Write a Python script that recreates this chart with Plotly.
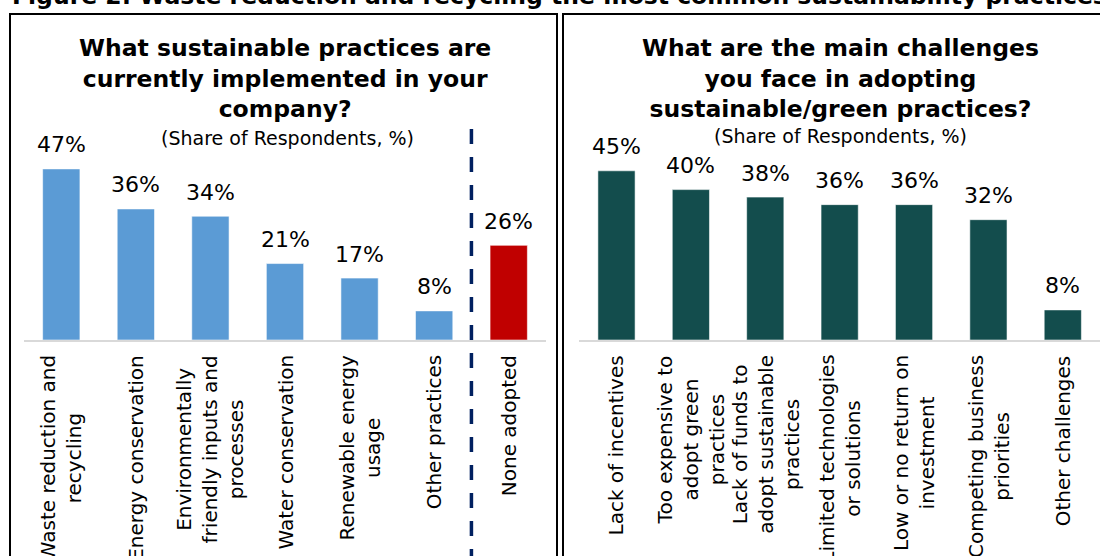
import plotly.graph_objects as go

W, H = 1100, 556

# ---------------- data ----------------
practices = ["Waste reduction and recycling", "Energy conservation",
             "Environmentally friendly inputs and processes", "Water conservation",
             "Renewable energy usage", "Other practices", "None adopted"]
practice_labels = ["Waste reduction and<br>recycling", "Energy conservation",
                   "Environmentally<br>friendly inputs and<br>processes", "Water conservation",
                   "Renewable energy<br>usage", "Other practices", "None adopted"]
practice_values = [47, 36, 34, 21, 17, 8, 26]

challenges = ["Lack of incentives", "Too expensive to adopt green practices",
              "Lack of funds to adopt sustainable practices", "Limited technologies or solutions",
              "Low or no return on investment", "Competing business priorities", "Other challenges"]
challenge_labels = ["Lack of incentives", "Too expensive to<br>adopt green<br>practices",
                    "Lack of funds to<br>adopt sustainable<br>practices", "Limited technologies<br>or solutions",
                    "Low or no return on<br>investment", "Competing business<br>priorities", "Other challenges"]
challenge_values = [45, 40, 38, 36, 36, 32, 8]

fig_title = "Figure 2: Waste reduction and recycling the most common sustainability practices"
left_title = "What sustainable practices are<br>currently implemented in your<br>company?"
right_title = "What are the main challenges<br>you face in adopting<br>sustainable/green practices?"
subtitle = "(Share of Respondents, %)"

# ---------------- style ----------------
FONT = "DejaVu Sans"
BLUE = "#5B9BD5"
RED = "#C00000"
TEAL = "#134D4D"
NAVY = "#002060"


def px(x):
    return x / W


def py(y):
    return 1 - y / H


left_colors = [BLUE] * (len(practices) - 1) + [RED]

fig = go.Figure()
fig.add_trace(go.Bar(x=practices, y=practice_values, marker=dict(color=left_colors,
                     line=dict(color="rgba(255,255,255,0.55)", width=1)),
                     xaxis="x", yaxis="y", showlegend=False, hoverinfo="skip"))
fig.add_trace(go.Bar(x=challenges, y=challenge_values, marker=dict(color=TEAL,
                     line=dict(color="rgba(255,255,255,0.55)", width=1)),
                     xaxis="x2", yaxis="y2", showlegend=False, hoverinfo="skip"))

base_y, top_y = 340, 130
ax_common = dict(showgrid=False, zeroline=False, showticklabels=False, ticks="",
                 showline=True, linecolor="#D9D9D9", linewidth=2, fixedrange=True,
                 type="category")
yax_common = dict(showgrid=False, zeroline=False, showticklabels=False, ticks="",
                  showline=False, domain=[py(base_y), py(top_y)], fixedrange=True)

annotations = []
# value labels
for cat, v in zip(practices, practice_values):
    annotations.append(dict(x=cat, y=v, xref="x", yref="y", text=f"{v}%", showarrow=False,
                            yanchor="middle", yshift=24, font=dict(family=FONT, size=22, color="#000")))
for cat, v in zip(challenges, challenge_values):
    annotations.append(dict(x=cat, y=v, xref="x2", yref="y2", text=f"{v}%", showarrow=False,
                            yanchor="middle", yshift=24, font=dict(family=FONT, size=22, color="#000")))
# category labels (rotated)
for cat, lab in zip(practices, practice_labels):
    annotations.append(dict(x=cat, y=py(353), xref="x", yref="paper", text=lab, showarrow=False,
                            textangle=-90, xanchor="center", yanchor="top", align="center",
                            font=dict(family=FONT, size=20, color="#000")))
for cat, lab in zip(challenges, challenge_labels):
    annotations.append(dict(x=cat, y=py(353), xref="x2", yref="paper", text=lab, showarrow=False,
                            textangle=-90, xanchor="center", yanchor="top", align="center",
                            font=dict(family=FONT, size=20, color="#000")))
# titles
annotations += [
    dict(x=px(10), y=py(-4), xref="paper", yref="paper", text=f"<b>{fig_title}</b>", showarrow=False,
         xanchor="left", yanchor="middle", font=dict(family=FONT, size=23.5, color="#000")),
    dict(x=px(285), y=py(78), xref="paper", yref="paper", text=f"<b>{left_title}</b>", showarrow=False,
         xanchor="center", yanchor="middle", align="center", font=dict(family=FONT, size=23.5, color="#000")),
    dict(x=px(840), y=py(78), xref="paper", yref="paper", text=f"<b>{right_title}</b>", showarrow=False,
         xanchor="center", yanchor="middle", align="center", font=dict(family=FONT, size=23.5, color="#000")),
    dict(x=px(287), y=py(138), xref="paper", yref="paper", text=subtitle, showarrow=False,
         xanchor="center", yanchor="middle", font=dict(family=FONT, size=19, color="#000")),
    dict(x=px(840), y=py(136), xref="paper", yref="paper", text=subtitle, showarrow=False,
         xanchor="center", yanchor="middle", font=dict(family=FONT, size=19, color="#000")),
]

shapes = [
    # panel frames
    dict(type="rect", xref="paper", yref="paper", x0=px(10), x1=px(557), y0=py(14), y1=py(562),
         line=dict(color="#000", width=2), fillcolor="rgba(0,0,0,0)"),
    dict(type="rect", xref="paper", yref="paper", x0=px(563), x1=px(1104), y0=py(14), y1=py(562),
         line=dict(color="#000", width=2), fillcolor="rgba(0,0,0,0)"),
    # divider between adopted practices and "None adopted"
    dict(type="line", xref="x", yref="paper", x0=5.5, x1=5.5, y0=py(129), y1=py(575),
         line=dict(color=NAVY, width=3.5, dash="15px,13px")),
]

fig.update_layout(
    width=W, height=H, margin=dict(l=0, r=0, t=0, b=0),
    paper_bgcolor="white", plot_bgcolor="white",
    bargap=0.5,
    xaxis=dict(domain=[px(24), px(546)], anchor="y", range=[-0.5, 6.5], **ax_common),
    yaxis=dict(anchor="x", range=[0, (base_y - top_y) / 3.64], **yax_common),
    xaxis2=dict(domain=[px(579.3), 1.0], anchor="y2", range=[-0.5, 6.5], **ax_common),
    yaxis2=dict(anchor="x2", range=[0, (base_y - top_y) / 3.76], **yax_common),
    annotations=annotations, shapes=shapes,
    font=dict(family=FONT),
)

fig.write_html("out.html")
